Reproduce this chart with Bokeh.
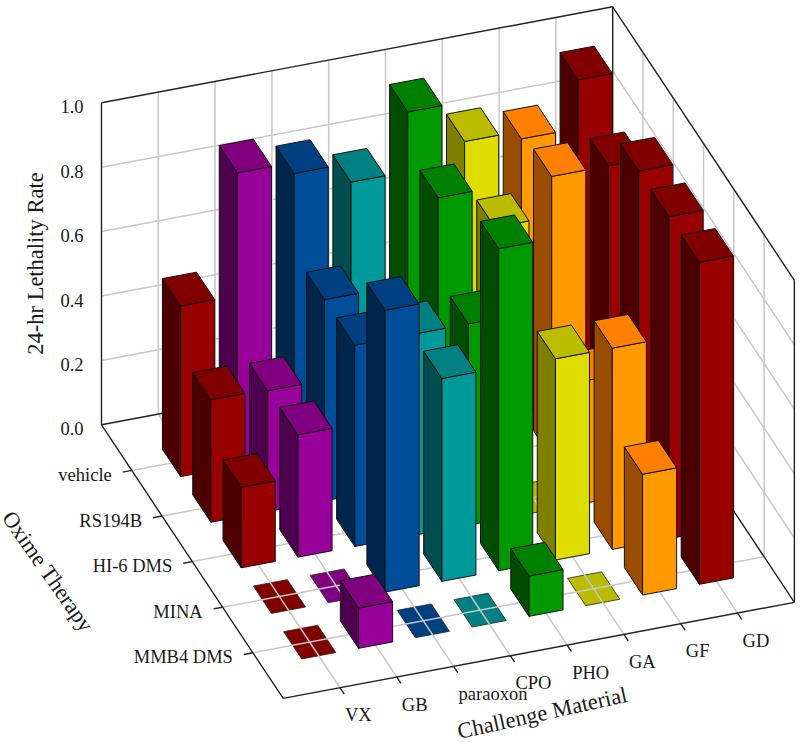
import math
from bokeh.core.properties import value
from bokeh.embed import file_html
from bokeh.models import Range1d
from bokeh.plotting import figure
from bokeh.resources import INLINE

materials = ["VX", "GB", "paraoxon", "CPO", "PHO", "GA", "GF", "GD"]
therapies = ["vehicle", "RS194B", "HI-6 DMS", "MINA", "MMB4 DMS"]
z_ticks = [0.0, 0.2, 0.4, 0.6, 0.8, 1.0]

# lethality rate per therapy, vehicle -> MMB4 DMS
vx = [0.53, 0.38, 0.25, 0.0, 0.0]
gb = [0.91, 0.375, 0.38, 0.0, 0.125]
paraoxon = [0.875, 0.625, 0.625, 0.875, 0.0]
cpo = [0.815, 0.38, 0.625, 0.63, 0.0]
pho = [1.0, 0.875, 0.625, 1.0, 0.125]
ga = [0.875, 0.75, 0.0, 0.625, 0.0]
gf = [0.85, 0.875, 0.38, 0.625, 0.375]
gd = [1.0, 0.875, 1.0, 1.0, 1.0]
series = [vx, gb, paraoxon, cpo, pho, ga, gf, gd]

front_colors = ["#990000", "#990099", "#004d99", "#009999", "#009900", "#dddd00", "#ff9900", "#990000"]
top_colors = ["#800000", "#800080", "#004080", "#008080", "#008000", "#bbbb00", "#ff8000", "#800000"]
side_colors = ["#4d0000", "#4d004d", "#00264d", "#004d4d", "#004d00", "#808000", "#994d00", "#4d0000"]

FONT = "Liberation Serif"
ORIGIN = (101.0, 424.3)
U_STEP = (56.8, -10.67)
V_STEP = (30.28, 45.6)
Z_SPAN = 322.0
U_MAX, V_MAX = len(materials) + 1, len(therapies) + 1
HALF = 0.3


def proj(u, v, z=0.0):
    return (ORIGIN[0] + u * U_STEP[0] + v * V_STEP[0],
            ORIGIN[1] + u * U_STEP[1] + v * V_STEP[1] - z * Z_SPAN)


def poly(points):
    pts = [proj(*q) for q in points]
    return [q[0] for q in pts], [q[1] for q in pts]


def segs(pairs):
    xs, ys = [], []
    for a, b in pairs:
        x, y = poly([a, b])
        xs.append(x)
        ys.append(y)
    return xs, ys


p = figure(width=800, height=742, output_backend="svg", toolbar_location=None,
           x_range=Range1d(0, 800), y_range=Range1d(742, 0),
           x_axis_type=None, y_axis_type=None, min_border=0,
           outline_line_color=None, background_fill_color="white",
           styles={"position": "absolute", "left": "0", "top": "0"})
p.grid.visible = False

# zero-height bars lie under the floor grid
for i, vals in enumerate(series):
    u = i + 1
    for j, val in enumerate(vals):
        v = j + 1
        if val == 0:
            x, y = poly([(u - HALF, v - HALF), (u + HALF, v - HALF), (u + HALF, v + HALF), (u - HALF, v + HALF)])
            p.patch(x, y, fill_color=top_colors[i], line_color="#222222", line_width=0.8)

# grid
grid = []
for u in range(1, U_MAX):
    grid.append(((u, 0, 0), (u, V_MAX, 0)))
    grid.append(((u, 0, 0), (u, 0, 1)))
for v in range(1, V_MAX):
    grid.append(((0, v, 0), (U_MAX, v, 0)))
    grid.append(((U_MAX, v, 0), (U_MAX, v, 1)))
for z in z_ticks[1:-1]:
    grid.append(((0, 0, z), (U_MAX, 0, z)))
    grid.append(((U_MAX, 0, z), (U_MAX, V_MAX, z)))
gx, gy = segs(grid)
p.multi_line(gx, gy, line_color="#c8c8c8", line_width=1.5)

# frame and ticks
frame = [((0, 0, 0), (0, 0, 1)), ((0, 0, 1), (U_MAX, 0, 1)), ((U_MAX, 0, 1), (U_MAX, V_MAX, 1)),
         ((U_MAX, V_MAX, 1), (U_MAX, V_MAX, 0)), ((U_MAX, 0, 0), (U_MAX, 0, 1)),
         ((0, 0, 0), (0, V_MAX, 0)), ((0, V_MAX, 0), (U_MAX, V_MAX, 0)),
         ((0, 0, 0), (U_MAX, 0, 0)), ((U_MAX, 0, 0), (U_MAX, V_MAX, 0))]
for u in range(1, U_MAX - 1 + 0):
    frame.append(((u, V_MAX, 0), (u, V_MAX + 0.14, 0)))
frame.append(((U_MAX - 1, V_MAX, 0), (U_MAX - 1, V_MAX + 0.14, 0)))
for v in range(1, V_MAX):
    frame.append(((0, v, 0), (-0.16, v, 0)))
fx, fy = segs(frame)
p.multi_line(fx, fy, line_color="#222222", line_width=1.4)

# bars, far to near
for j in range(len(therapies)):
    v = j + 1
    for i in range(len(materials) - 1, -1, -1):
        u = i + 1
        val = series[i][j]
        if val == 0:
            continue
        l, r, b, f = u - HALF, u + HALF, v - HALF, v + HALF
        x, y = poly([(l, b, 0), (l, f, 0), (l, f, val), (l, b, val)])
        p.patch(x, y, fill_color=side_colors[i], line_color="#111111", line_width=1)
        x, y = poly([(l, f, 0), (r, f, 0), (r, f, val), (l, f, val)])
        p.patch(x, y, fill_color=front_colors[i], line_color="#111111", line_width=1)
        x, y = poly([(l, b, val), (r, b, val), (r, f, val), (l, f, val)])
        p.patch(x, y, fill_color=top_colors[i], line_color="#111111", line_width=1)

LABEL = "18.5px"
TITLE = "22.5px"
COLOR = "#1a1a1a"

# z tick labels
zpos = [proj(0, 0, z) for z in z_ticks]
p.text([q[0] - 18 for q in zpos], [q[1] + 4 for q in zpos], text=[f"{z:.1f}" for z in z_ticks],
       text_align="right", text_baseline="middle", text_font=value(FONT),
       text_font_size=LABEL, text_color=COLOR)

# therapy tick labels
vpos = [proj(0, j + 1) for j in range(len(therapies))]
p.text([q[0] - 20 for q in vpos], [q[1] + 4.5 for q in vpos], text=therapies,
       text_align="right", text_baseline="middle", text_font=value(FONT),
       text_font_size=LABEL, text_color=COLOR)

# material tick labels
upos = [proj(i + 1, V_MAX) for i in range(len(materials))]
p.text([q[0] + 5 for q in upos], [q[1] + 27.5 for q in upos], text=materials,
       text_align="left", text_baseline="alphabetic", text_font=value(FONT),
       text_font_size=LABEL, text_color=COLOR)

# axis titles
p.text([35], [263], text=["24-hr Lethality Rate"], angle=[math.pi / 2], text_align="center",
       text_baseline="middle", text_font=value(FONT), text_font_size=TITLE, text_color=COLOR)
p.text([47.5], [571], text=["Oxime Therapy"], angle=[math.radians(-55)], text_align="center",
       text_baseline="middle", text_font=value(FONT), text_font_size=TITLE, text_color=COLOR)
p.text([541.7], [712.5], text=["Challenge Material"], angle=[math.radians(12.5)], text_align="center",
       text_baseline="middle", text_font=value(FONT), text_font_size=TITLE, text_color=COLOR)

open("out.html", "w").write(file_html(p, INLINE))
